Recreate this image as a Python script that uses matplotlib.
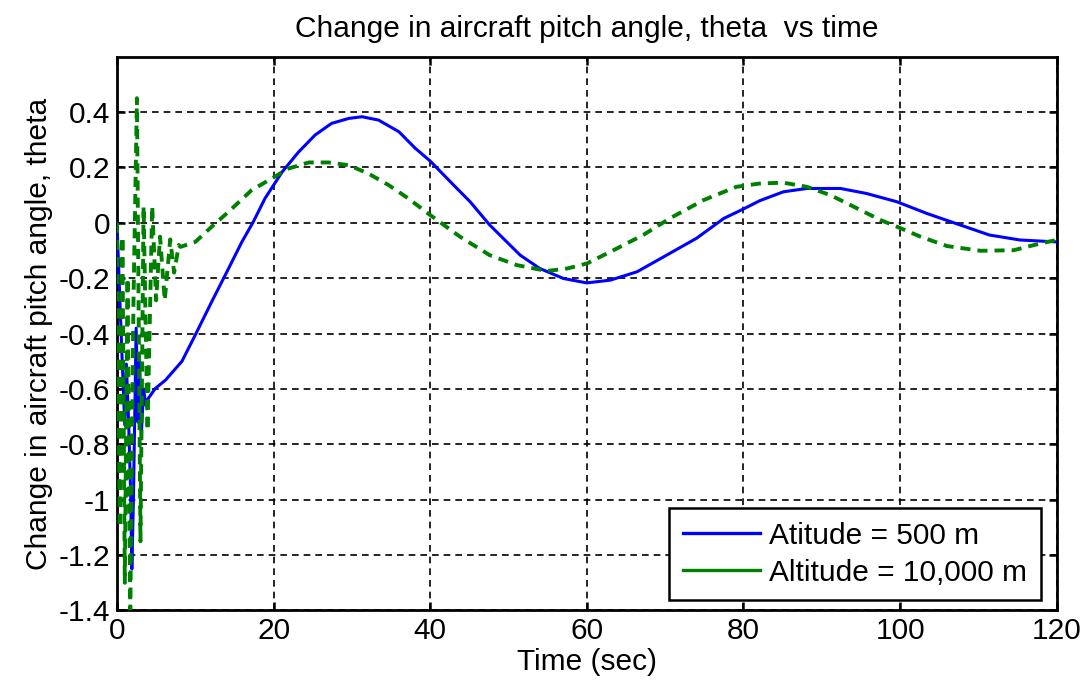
import matplotlib
matplotlib.use("Agg")
import matplotlib.pyplot as plt
from matplotlib.lines import Line2D

# ---- data ----
blue_t = [0, 0.6, 1.0, 1.2, 1.5, 1.75, 1.9, 2.1, 2.45, 2.7, 2.9, 3.1, 3.4, 3.7, 4.0,
          4.9, 6.2, 8.3, 10.0, 12.1, 14.25, 15.95, 17.4, 18.9, 21.1, 23.2, 25.3, 27.4,
          29.6, 31.3, 33.4, 36.0, 38.1, 40.0, 43.0, 45.1, 47.6, 51.5, 54.0, 57.0, 60.0,
          63.0, 66.4, 69.8, 74.0, 77.5, 80.0, 82.1, 85.1, 88.1, 92.4, 95.7, 99.6, 103.4,
          107.7, 111.4, 115.3, 120]
blue_y = [0, -0.45, -0.73, -0.51, -0.73, -0.98, -1.25, -1.0, -0.38, -0.72, -0.5, -0.77,
          -0.6, -0.66, -0.634, -0.598, -0.568, -0.50, -0.405, -0.285, -0.165, -0.069,
          0.003, 0.088, 0.184, 0.256, 0.317, 0.359, 0.377, 0.383, 0.371, 0.329, 0.269,
          0.223, 0.136, 0.076, -0.008, -0.117, -0.165, -0.201, -0.217, -0.207, -0.177,
          -0.123, -0.056, 0.016, 0.05, 0.08, 0.112, 0.124, 0.124, 0.106, 0.076, 0.034,
          -0.008, -0.044, -0.062, -0.069]

green_t = [0, 0.35, 0.7, 1.0, 1.35, 1.7, 2.1, 2.55, 3.0, 3.4, 3.9, 4.5, 5.0, 5.5, 6.1,
           6.8, 7.3, 7.9, 8.1, 10.0, 12.1, 14.25, 17.2, 19.4, 21.9, 24.5, 27.0, 29.6,
           32.1, 34.7, 37.2, 40.0, 43.8, 47.6, 51.1, 54.9, 57.5, 60.0, 63.4, 67.2, 70.6,
           74.9, 79.1, 82.1, 85.1, 88.1, 91.1, 94.1, 97.5, 99.6, 102.6, 106.0, 110.3,
           114.5, 118.0, 120]
green_y = [0, -1.1, -0.05, -1.3, -0.2, -1.4, -0.3, 0.45, -1.15, 0.06, -0.75, 0.06, -0.28,
           -0.05, -0.28, -0.06, -0.18, -0.08, -0.087, -0.069, -0.014, 0.04, 0.118, 0.154,
           0.196, 0.218, 0.218, 0.208, 0.178, 0.136, 0.088, 0.028, -0.05, -0.117, -0.153,
           -0.174, -0.165, -0.147, -0.099, -0.044, 0.016, 0.082, 0.13, 0.142, 0.145, 0.130,
           0.10, 0.058, 0.01, -0.014, -0.05, -0.084, -0.101, -0.099, -0.074, -0.062]

series_labels = ["Atitude = 500 m", "Altitude = 10,000 m"]
x_ticks = [0, 20, 40, 60, 80, 100, 120]
y_ticks = [-1.4, -1.2, -1.0, -0.8, -0.6, -0.4, -0.2, 0.0, 0.2, 0.4]
y_tick_labels = ["-1.4", "-1.2", "-1", "-0.8", "-0.6", "-0.4", "-0.2", "0", "0.2", "0.4"]

title = "Change in aircraft pitch angle, theta  vs time"
xlabel = "Time (sec)"
ylabel = "Change in aircraft pitch angle, theta"

# ---- figure ----
plt.rcParams['font.family'] = ['Liberation Sans', 'DejaVu Sans']
FS = 21.5

fig = plt.figure(figsize=(10.84, 6.91), dpi=100)
ax = fig.add_axes([0.1079, 0.1165, 0.8669, 0.8015])

ax.plot(blue_t, blue_y, color="#0000FF", lw=2.2, zorder=3)
ax.plot(green_t, green_y, color="#008000", lw=2.8, linestyle=(0, (2.6, 1.8)), zorder=4)

ax.set_xlim(0, 120)
ax.set_ylim(-1.4, 0.6)
ax.set_xticks(x_ticks)
ax.set_xticklabels([str(v) for v in x_ticks])
ax.set_yticks(y_ticks)
ax.set_yticklabels(y_tick_labels)

ax.grid(True, color="black", lw=1.2, linestyle=(0, (4, 3)))
ax.set_axisbelow(True)

for s in ax.spines.values():
    s.set_linewidth(2.0)
    s.set_color("black")

ax.tick_params(direction="in", length=6, width=1.8, top=True, right=True,
               labelsize=FS, pad=5)

ax.set_title(title, fontsize=FS, pad=14)
ax.set_xlabel(xlabel, fontsize=FS, labelpad=2)
ax.set_ylabel(ylabel, fontsize=FS, labelpad=4)

handles = [Line2D([], [], color="#0000FF", lw=2.4),
           Line2D([], [], color="#008000", lw=2.4)]
leg = ax.legend(handles, series_labels, loc="lower right",
                bbox_to_anchor=(0.983, 0.019), borderaxespad=0,
                fontsize=FS, handlelength=2.6, handletextpad=0.3,
                labelspacing=0.3, borderpad=0.45, fancybox=False,
                framealpha=1, edgecolor="black")
leg.get_frame().set_linewidth(1.8)

fig.savefig("out.png", dpi=100)
